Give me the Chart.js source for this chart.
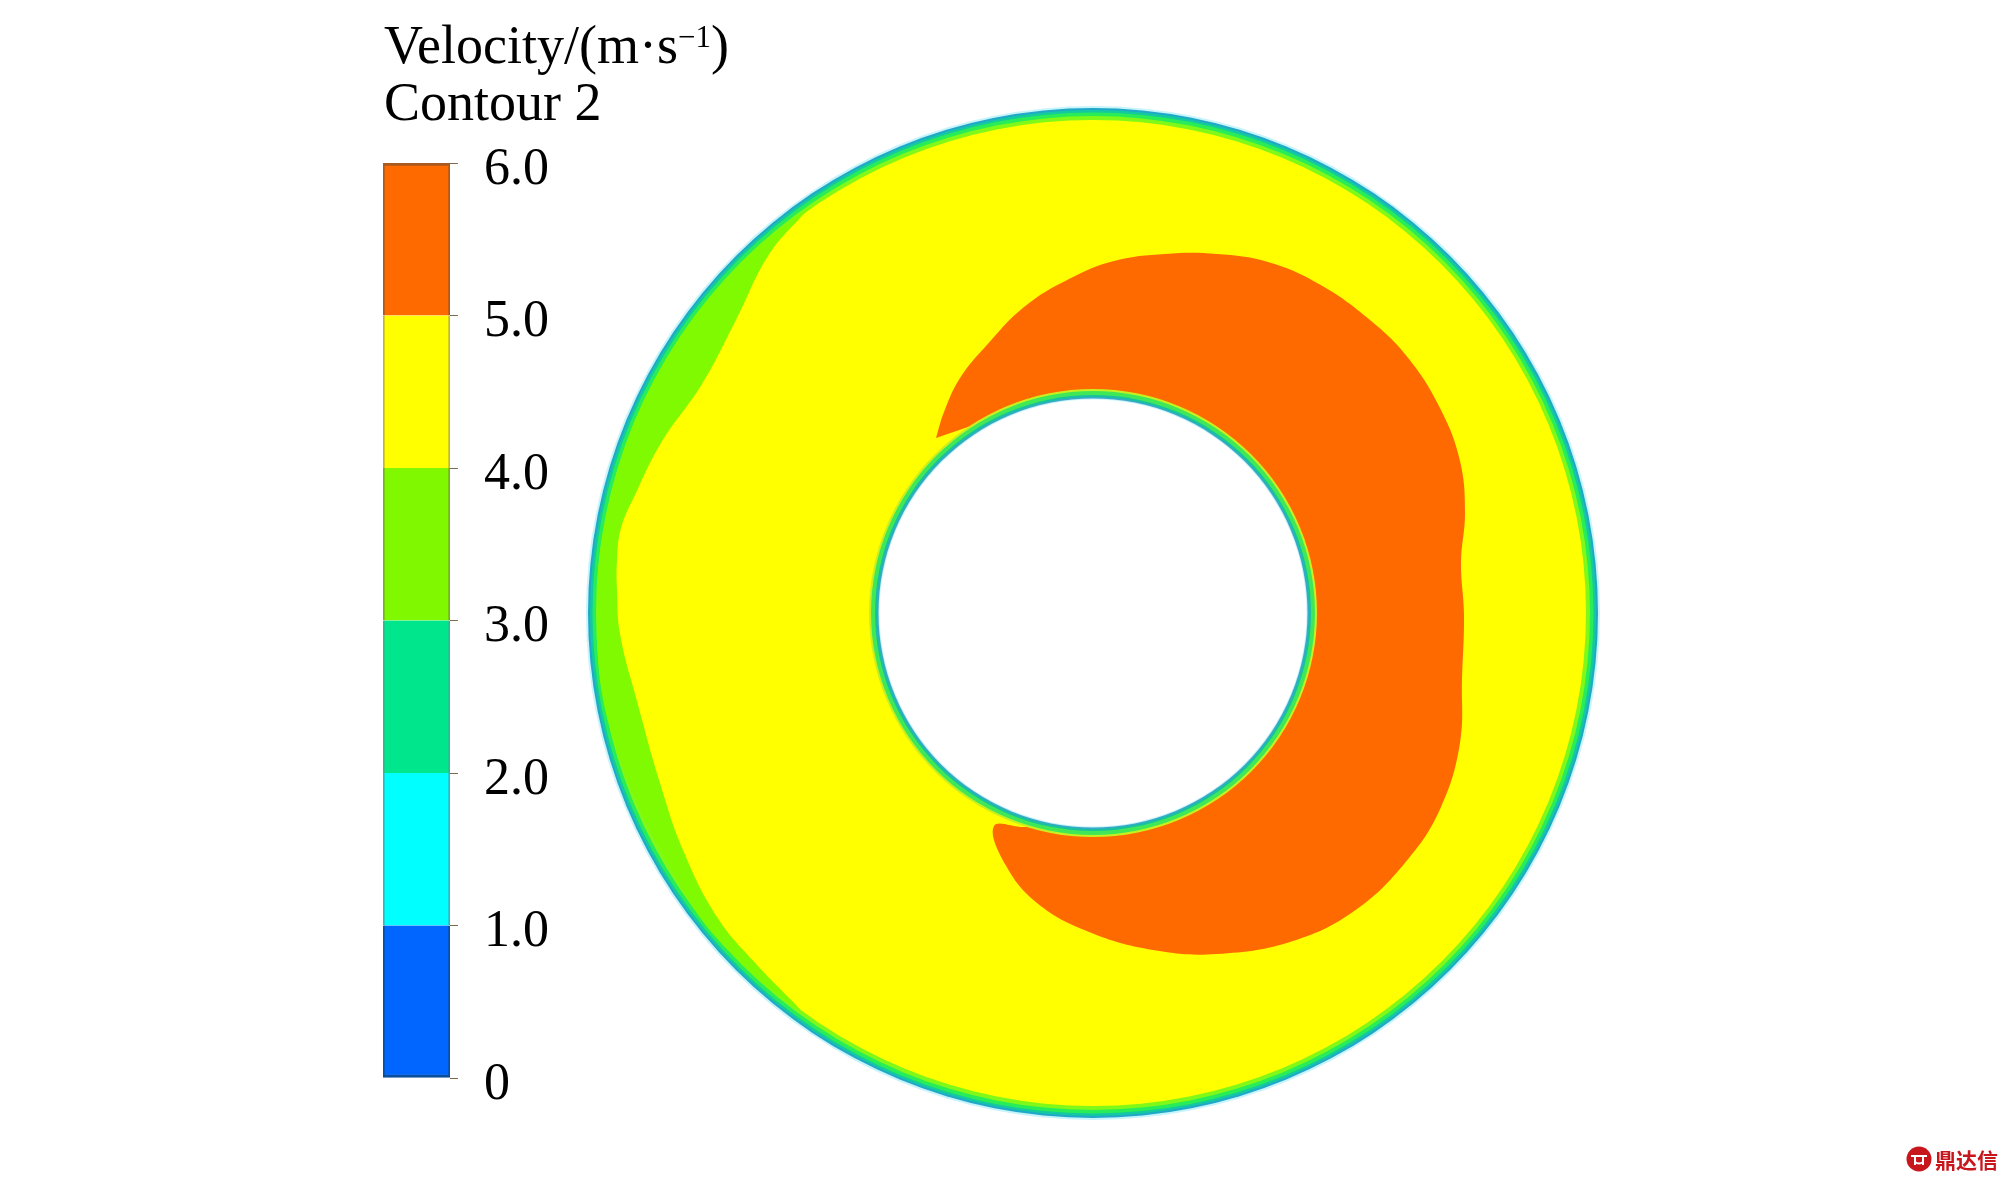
<!DOCTYPE html>
<html>
<head>
<meta charset="utf-8">
<script src="https://cdn.jsdelivr.net/npm/chart.js@4/dist/chart.umd.min.js"></script>
<style>
html, body { margin: 0; padding: 0; background: #fff; }
body { width: 2008px; height: 1181px; position: relative; overflow: hidden; }
canvas { position: absolute; }
#contour { left: 0; top: 0; }
#colorbar { left: 340px; top: 111px; }
#title { position: absolute; left: 384px; top: 17px; font: 54px/57px "Liberation Serif", serif; color: #000; white-space: nowrap; }
#title sup { font-size: 31px; line-height: 0; vertical-align: 16px; }
#mark { position: absolute; left: 1906px; top: 1146px; display: flex; align-items: center; color: #c8161d; font: 700 21px/26px "Noto Sans CJK SC", sans-serif; }
#mark svg { margin-right: 3px; }
</style>
</head>
<body>
<canvas id="contour" width="2008" height="1181"></canvas>
<canvas id="colorbar" width="260" height="1019"></canvas>
<div id="title">Velocity/(m·s<sup>−1</sup>)<br>Contour 2</div>
<div id="mark"><svg width="26" height="26" viewBox="0 0 26 26"><circle cx="13" cy="13" r="12.5" fill="#c8161d"/><path d="M5 10h16M9 10v9M17 10v9M9 16q4 3 8 0" stroke="#fff" stroke-width="2" fill="none"/></svg>鼎达信</div>
<script>
// colour scale
const bandLevels = [0, 1, 2, 3, 4, 5, 6];
const bandColors = ['#0066ff', '#00ffff', '#00e68c', '#80f800', '#ffff00', '#ff6a00'];
const bandEdges = ['#0a4f9c', '#30b8c0', '#30b890', '#78b020', '#c0b830', '#a85a20'];
const tickLabels = ['0', '1.0', '2.0', '3.0', '4.0', '5.0', '6.0'];

// wall layers, radius in mesh units (outer wall = 505)
const outerRadii = [507, 505, 503, 500.5, 497, 493];
const outerColors = ['#c8f4fc', '#20a8c8', '#14c8a0', '#28ec58', '#80f818', '#ffff00'];
const innerRadii = [224, 222, 218, 216, 214.5, 213.5];
const innerColors = ['#c8f020', '#40e858', '#18c0a0', '#3aa8c8', '#c8f4fc', '#ffffff'];

// low velocity crescent on the left
const crescentX = [-273, -293, -325, -357, -391, -432, -458, -472, -476, -476, -473, -456, -433, -410, -376, -336, -293,
    -351, -406, -479, -496, -479, -430, -351, -273];
const crescentY = [414, 395, 357, 293, 229, 170, 118, 85, 53, 23, -21, -88, -170, -237, -304, -352, -397,
    -351, -284, -128, 0, 128, 248, 351, 414];

// high velocity region, the part inside the hole is covered by the inner wall
const orangeX = [-157, -149, -133, -107, -69, -24, 21, 72, 124, 175, 226, 277, 316, 348, 367, 372, 368, 371, 369, 367,
    348, 316, 264, 200, 124, 60, -4, -56, -88, -99, -68, -45, -30, -60, -100, -125, -157];
const orangeY = [175, 201, 235, 267, 306, 334, 352, 359, 359, 351, 329, 293, 254, 203, 152, 101, 50, -2, -66, -130,
    -194, -245, -296, -328, -341, -337, -319, -290, -251, -213, -214, -210, -100, 120, 194, 186, 175];

function zip(xs, ys) {
    return xs.map((x, i) => ({ x: x, y: ys[i] }));
}

function disc(r, color) {
    return {
        data: [{ x: 0, y: 0 }],
        backgroundColor: color,
        borderWidth: 0,
        pointRadius: ctx => {
            const s = ctx.chart.scales.x;
            return s.getPixelForValue(r) - s.getPixelForValue(0);
        }
    };
}

function region(xs, ys, color) {
    return {
        data: zip(xs, ys),
        showLine: true,
        fill: 'shape',
        backgroundColor: color,
        borderWidth: 0,
        pointRadius: 0,
        tension: 0.4
    };
}

// painted from the back to the front
const layers = [];
outerRadii.forEach((r, i) => layers.push(disc(r, outerColors[i])));
layers.push(region(crescentX, crescentY, '#80fa00'));
layers.push(region(orangeX, orangeY, '#ff6a00'));
innerRadii.forEach((r, i) => layers.push(disc(r, innerColors[i])));

new Chart(document.getElementById('contour'), {
    type: 'scatter',
    data: { datasets: layers.reverse() },
    options: {
        responsive: false,
        animation: false,
        devicePixelRatio: 1,
        events: [],
        layout: { padding: 0 },
        plugins: { legend: { display: false }, tooltip: { enabled: false } },
        scales: {
            x: { type: 'linear', display: false, min: -1093, max: 915 },
            y: { type: 'linear', display: false, min: -568, max: 613 }
        }
    }
});

new Chart(document.getElementById('colorbar'), {
    type: 'bar',
    data: {
        labels: ['Velocity'],
        datasets: bandColors.map((c, i) => ({
            data: [[bandLevels[i], bandLevels[i + 1]]],
            backgroundColor: c,
            borderColor: bandEdges[i],
            borderWidth: { left: 2, right: 2, top: i == 5 ? 3 : 0, bottom: i == 0 ? 3 : 0 },
            borderSkipped: false,
            categoryPercentage: 1,
            barPercentage: 1,
            grouped: false
        }))
    },
    options: {
        responsive: false,
        animation: false,
        devicePixelRatio: 1,
        events: [],
        layout: { padding: { left: 43, top: 51, bottom: 51, right: 0 } },
        plugins: { legend: { display: false }, tooltip: { enabled: false } },
        scales: {
            x: { display: false },
            y: {
                position: 'right',
                min: 0,
                max: 6,
                afterFit: s => { s.width = 150; },
                border: { display: false },
                grid: { drawOnChartArea: false, color: '#7a6a50', tickLength: 8 },
                ticks: {
                    stepSize: 1,
                    padding: 26,
                    labelOffset: 7,
                    color: '#000',
                    font: { family: '"Liberation Serif", serif', size: 52, lineHeight: 1 },
                    callback: v => tickLabels[v]
                }
            }
        }
    }
});
</script>
</body>
</html>
